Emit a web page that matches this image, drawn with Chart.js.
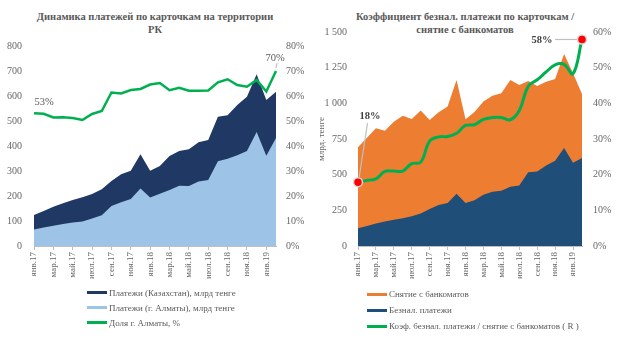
<!DOCTYPE html>
<html lang="ru">
<head>
<meta charset="utf-8">
<title>Платежи по карточкам</title>
<script src="https://cdn.jsdelivr.net/npm/chart.js@4/dist/chart.umd.min.js"></script>
<style>
  html, body { margin: 0; padding: 0; background: #fff; }
  body { width: 620px; height: 340px; position: relative; overflow: hidden;
         font-family: 'Liberation Serif', 'Times New Roman', serif; color: #595959; }
  canvas { position: absolute; top: 0; }
  .title { position: absolute; width: 310px; text-align: center; font-weight: bold;
           font-size: 10.5px; line-height: 12.5px; color: #595959; }
  .legend { position: absolute; font-size: 9px; color: #595959; }
  .legend div { white-space: nowrap; display: flex; align-items: center; }
  .legend span { display: inline-block; width: 20px; height: 3px; margin-right: 2px; }
</style>
</head>
<body>
<div class="title" style="left:0; top:11px;">Динамика платежей по карточкам  на территории<br>РК</div>
<div class="title" style="left:310px; top:11px;">Коэффициент безнал. платежи по карточкам /<br>снятие с банкоматов</div>

<canvas id="leftChart" width="310" height="290" style="left:0"></canvas>
<canvas id="rightChart" width="310" height="290" style="left:310px"></canvas>

<div class="legend" id="leftLegend" style="left:87px; top:285px;"></div>
<div class="legend" id="rightLegend" style="left:367px; top:286px;"></div>

<script>
const months = ['янв.17', 'фев.17', 'мар.17', 'апр.17', 'май.17', 'июн.17', 'июл.17', 'авг.17',
  'сен.17', 'окт.17', 'ноя.17', 'дек.17', 'янв.18', 'фев.18', 'мар.18', 'апр.18', 'май.18',
  'июн.18', 'июл.18', 'авг.18', 'сен.18', 'окт.18', 'ноя.18', 'дек.18', 'янв.19', 'фев.19'];

// млрд тенге
const paymentsKz = [124, 140, 157, 171, 184, 195, 208, 227, 260, 287, 301, 367, 301, 320, 360,
  380, 387, 415, 424, 517, 523, 564, 597, 687, 584, 617];
const paymentsAlmaty = [66, 74, 81, 88, 94, 98, 110, 123, 160, 175, 188, 230, 194, 209, 224,
  241, 240, 258, 264, 339, 349, 363, 380, 456, 361, 432];
// %
const almatyShare = [53.1, 52.9, 51.4, 51.5, 51.2, 50.4, 52.8, 54.0, 61.4, 61.0, 62.4, 62.8, 64.6,
  65.2, 62.3, 63.3, 62.1, 62.1, 62.2, 65.5, 66.7, 64.4, 63.7, 66.4, 61.8, 70.0];

// млрд тенге
const cashWithdrawals = [692, 759, 825, 808, 871, 913, 890, 949, 883, 937, 977, 1163, 888, 940,
  1012, 1054, 1070, 1163, 1128, 1156, 1121, 1152, 1170, 1346, 1210, 1065];
const cashlessPayments = paymentsKz;
// %
const cashlessRatio = [17.9, 18.4, 18.8, 20.9, 21.0, 21.0, 23.1, 23.5, 29.4, 30.6, 30.7, 31.6, 33.8,
  34.0, 35.5, 36.0, 36.0, 35.4, 38.0, 44.8, 46.6, 48.8, 50.8, 50.9, 48.3, 57.9];

const leftTicks = [0, 100, 200, 300, 400, 500, 600, 700, 800];
const leftPctTicks = [0, 10, 20, 30, 40, 50, 60, 70, 80];
const rightTicks = [0, 250, 500, 750, 1000, 1250, 1500];
const rightPctTicks = [0, 10, 20, 30, 40, 50, 60];

Chart.defaults.font.family = "'Liberation Serif', 'Times New Roman', serif";
Chart.defaults.color = '#666';

const tickGray = '#666';
const axisGray = '#bfbfbf';

function fmtThousands(v) {
  return v >= 1000 ? Math.floor(v / 1000) + ' ' + String(v % 1000).padStart(3, '0') : String(v);
}

function monthAxis() {
  return {
    type: 'category',
    offset: false,
    grid: {
      display: true, drawOnChartArea: false, drawTicks: true, tickLength: 4,
      color: c => c.index % 2 === 0 ? axisGray : 'rgba(0,0,0,0)'
    },
    border: { display: true, color: axisGray },
    ticks: {
      autoSkip: false, maxRotation: 90, minRotation: 90, padding: 2,
      font: { size: 9 }, color: tickGray,
      callback: (v, i) => i % 2 === 0 ? months[i] : ''
    },
    afterFit: s => { s.height = 40; }
  };
}

function valueAxis(pos, ticks, width, pad, fmt) {
  return {
    position: pos,
    min: ticks[0],
    max: ticks[ticks.length - 1],
    afterBuildTicks: s => { s.ticks = ticks.map(v => ({ value: v })); },
    grid: { display: false, drawTicks: false },
    border: { display: false },
    ticks: { padding: pad, font: { size: 10 }, color: tickGray, callback: fmt },
    afterFit: s => { s.width = width; }
  };
}

function area(label, data, color) {
  return {
    label: label, data: data, yAxisID: 'y',
    fill: 'origin', backgroundColor: color,
    borderColor: 'rgba(0,0,0,0)', borderWidth: 0,
    pointRadius: 0, tension: 0
  };
}

// percentage callouts with optional leader lines
const callouts = {
  id: 'callouts',
  afterDatasetsDraw(chart, args, opts) {
    if (!opts.items) return;
    const ctx = chart.ctx;
    const meta = chart.getDatasetMeta(opts.dataset);
    const data = chart.data.datasets[opts.dataset].data;
    ctx.save();
    opts.items.forEach(it => {
      const pt = meta.data[it.index];
      if (it.leader) {
        ctx.strokeStyle = axisGray;
        ctx.lineWidth = 1.2;
        ctx.beginPath();
        ctx.moveTo(pt.x + it.leader[0], pt.y + it.leader[1]);
        ctx.lineTo(pt.x + it.leader[2], pt.y + it.leader[3]);
        ctx.stroke();
      }
      ctx.font = (it.bold ? 'bold ' : '') + '10.5px ' + Chart.defaults.font.family;
      ctx.fillStyle = it.bold ? '#404040' : '#595959';
      ctx.textAlign = 'center';
      ctx.textBaseline = 'middle';
      ctx.fillText(Math.round(data[it.index]) + '%', pt.x + it.dx, pt.y + it.dy);
    });
    ctx.restore();
  }
};

const baseOptions = {
  responsive: false,
  animation: false,
  events: [],
  plugins: { legend: { display: false }, tooltip: { enabled: false } }
};

// Динамика платежей
new Chart(document.getElementById('leftChart'), {
  type: 'line',
  data: {
    labels: months,
    datasets: [
      {
        label: 'Доля г. Алматы, %', data: almatyShare, yAxisID: 'y1',
        borderColor: '#00b050', borderWidth: 2.5, pointRadius: 0, tension: 0, fill: false
      },
      area('Платежи (г. Алматы), млрд тенге', paymentsAlmaty, '#9dc3e6'),
      area('Платежи (Казахстан), млрд тенге', paymentsKz, '#1f3864')
    ]
  },
  options: {
    ...baseOptions,
    layout: { padding: { top: 46, bottom: 4, left: 0, right: 0 } },
    scales: {
      x: monthAxis(),
      y: valueAxis('left', leftTicks, 34, 12, v => String(v)),
      y1: valueAxis('right', leftPctTicks, 34, 10, v => v + '%')
    },
    plugins: {
      ...baseOptions.plugins,
      callouts: {
        dataset: 0,
        items: [
          { index: 0, dx: 10, dy: -11.5 },
          { index: almatyShare.length - 1, dx: -1, dy: -13, leader: [1, -8, 0, -3] }
        ]
      }
    }
  },
  plugins: [callouts]
});

// Коэффициент безнал. платежи / снятие
const lastIdx = cashlessRatio.length - 1;
new Chart(document.getElementById('rightChart'), {
  type: 'line',
  data: {
    labels: months,
    datasets: [
      {
        label: 'Коэф. безнал. платежи  / снятие с банкоматов ( R )', data: cashlessRatio, yAxisID: 'y1',
        borderColor: '#00b050', borderWidth: 3, tension: 0.4, fill: false,
        pointRadius: c => (c.dataIndex === 0 || c.dataIndex === lastIdx) ? 4.5 : 0,
        pointBackgroundColor: '#ff0000', pointBorderColor: '#d9d9d9', pointBorderWidth: 1.5
      },
      area('Безнал. платежи', cashlessPayments, '#1f4e79'),
      area('Снятие с банкоматов', cashWithdrawals, '#ed7d31')
    ]
  },
  options: {
    ...baseOptions,
    layout: { padding: { top: 32, bottom: 4, left: 0, right: 0 } },
    scales: {
      x: monthAxis(),
      y: {
        ...valueAxis('left', rightTicks, 48, 11, fmtThousands),
        title: { display: true, text: 'млрд. тенге', font: { size: 9 }, color: tickGray, padding: { top: 6, bottom: 0 } }
      },
      y1: valueAxis('right', rightPctTicks, 38, 11, v => v + '%')
    },
    plugins: {
      ...baseOptions.plugins,
      callouts: {
        dataset: 0,
        items: [
          { index: 0, dx: 12, dy: -66, bold: true, leader: [9.5, -59, 1.2, -5] },
          { index: lastIdx, dx: -40, dy: 0.5, bold: true, leader: [-27, 0, -5, 0] }
        ]
      }
    }
  },
  plugins: [callouts]
});

// legends
function buildLegend(id, items) {
  const box = document.getElementById(id);
  items.forEach(([color, text, h]) => {
    const row = document.createElement('div');
    row.style.height = h + 'px';
    const sw = document.createElement('span');
    sw.style.background = color;
    row.appendChild(sw);
    row.appendChild(document.createTextNode(text));
    box.appendChild(row);
  });
}

buildLegend('leftLegend', [
  ['#1f3864', 'Платежи (Казахстан), млрд тенге', 15],
  ['#9dc3e6', 'Платежи (г. Алматы), млрд тенге', 15],
  ['#00b050', 'Доля г. Алматы, %', 15]
]);
buildLegend('rightLegend', [
  ['#ed7d31', 'Снятие с банкоматов', 16],
  ['#1f4e79', 'Безнал. платежи', 16],
  ['#00b050', 'Коэф. безнал. платежи  / снятие с банкоматов ( R )', 16]
]);
</script>
</body>
</html>
